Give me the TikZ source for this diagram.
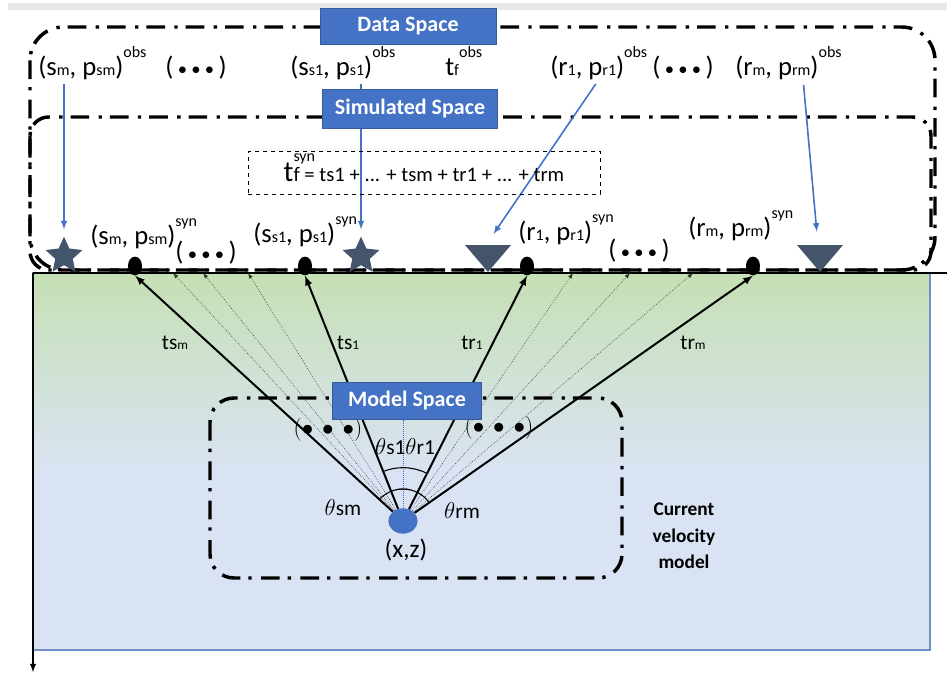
\documentclass[tikz,border=0pt]{standalone}
\usepackage{fontspec}
\setmainfont{Carlito}
\usepackage{amsmath}
\usepackage{amssymb}
\usetikzlibrary{arrows,shapes.geometric,positioning}
\definecolor{boxblue}{HTML}{4472C4}
\definecolor{slate}{HTML}{44546A}
\definecolor{soilgreen}{HTML}{C5E0B4}
\definecolor{soilblue}{HTML}{DAE3F3}
\definecolor{soiledge}{HTML}{7090C8}
\newcommand{\subt}[1]{{\fontsize{12}{12}\selectfont #1}}
\newcommand{\supt}[1]{\raisebox{13.5pt}{\fontsize{12}{12}\selectfont #1}}
\newcommand{\subr}[1]{{\fontsize{10}{10}\selectfont #1}}
\newcommand{\dotsgroup}{(\,{\fontsize{14}{14}\selectfont\textbullet\ \textbullet\ \textbullet}\,)}
\tikzset{
  spacebox/.style={fill=boxblue, draw=boxblue!80!black, text=white, font=\fontsize{16.5}{18}\selectfont\bfseries, inner sep=0pt},
  dashdot/.style={line width=2.6pt, dash pattern=on 14pt off 6pt on 2.5pt off 7pt},
  pair/.style={font=\fontsize{20}{22}\selectfont, inner sep=0pt, anchor=base west},
  raylabel/.style={font=\fontsize{16}{18}\selectfont, inner sep=0pt},
  anglelabel/.style={font=\fontsize{16}{18}\selectfont, inner sep=0pt},
  srcstar/.style={star, star points=5, star point ratio=2.1, fill=slate, minimum size=29pt, inner sep=0pt},
  hit/.style={ellipse, fill=black, minimum width=10.5pt, minimum height=14pt, inner sep=0pt},
  ray/.style={->, line width=1.5pt},
  thinray/.style={->, line width=0.45pt, densely dotted, black!80},
  obsarrow/.style={->, boxblue, line width=1.2pt}
}
\begin{document}
\begin{tikzpicture}[x=0.75pt, y=-0.75pt, >=latex]
\useasboundingbox (0,0) rectangle (947,675);
\fill[gray!18] (8,3) rectangle (947,10);
% current velocity model
\fill[soilblue] (33,273) rectangle (930,650);
\shade[top color=soilgreen, bottom color=soilblue] (33,273) rectangle (930,470);
\draw[soiledge, line width=0.8pt] (33,273) rectangle (930,650);
\draw[line width=1.5pt] (33,273) -- (947,273);
\draw[->, line width=1.1pt] (33,273) -- (33,672);
% spaces
\draw[dashdot, rounded corners=25pt] (30,27) rectangle (935,270);
\draw[dashdot, rounded corners=14pt] (30,117) rectangle (931,270);
% observed data
\node[pair] (obsSm) at (38,75) {(s\subt{m}, p\subt{sm})\supt{obs}};
\node[pair] (obsDotsL) at (165,75) {\dotsgroup};
\node[pair] (obsS1) at (290,75) {(s\subt{s1}, p\subt{s1})\supt{obs}};
\node[pair] (tfobs) at (445,75) {t\subt{f}\supt{obs}};
\node[pair] (obsR1) at (550,75) {(r\subt{1}, p\subt{r1})\supt{obs}};
\node[pair] (obsDotsR) at (652,75) {\dotsgroup};
\node[pair] (obsRm) at (735,75) {(r\subt{m}, p\subt{rm})\supt{obs}};
% sources and receivers
\node[srcstar] (starSm) at (64,256) {};
\node[srcstar] (starS1) at (361,256) {};
\fill[slate] (465,245) -- (511,245) -- (488,272) -- cycle;
\fill[slate] (797,245) -- (843,245) -- (820,272) -- cycle;
\coordinate (rcvR1) at (486,245);
\coordinate (rcvRm) at (818,245);
\draw[obsarrow, shorten <=3pt, shorten >=5pt] (obsSm.south -| starSm) -- (starSm.north);
\draw[obsarrow, shorten <=3pt, shorten >=5pt] (obsS1.south -| starS1) -- (starS1.north);
\draw[obsarrow, shorten <=4pt, shorten >=10pt] (obsR1.south) -- (rcvR1);
\draw[obsarrow, shorten <=4pt, shorten >=10pt] ([xshift=11pt]obsRm.south) -- (rcvRm);
% simulated data
\node[draw, dashed, line width=0.5pt, minimum width=264pt, minimum height=32pt, text height=13pt, text depth=0pt, inner sep=0pt] (tfsyn) at (424,173)
  {{\fontsize{22}{22}\selectfont t}\rlap{\raisebox{15pt}{\fontsize{12}{12}\selectfont syn}}{\fontsize{15.5}{16}\selectfont f = ts1 + ... + tsm + tr1 + ... + trm}};
\node[pair] (synSm) at (90,244) {(s\subt{m}, p\subt{sm})\supt{syn}};
\node[pair] (synDotsL) at (175,260) {\dotsgroup};
\node[pair] (synS1) at (253,242) {(s\subt{s1}, p\subt{s1})\supt{syn}};
\node[pair] (synR1) at (518,240) {(r\subt{1}, p\subt{r1})\supt{syn}};
\node[pair] (synDotsR) at (608,258) {\dotsgroup};
\node[pair] (synRm) at (688,236) {(r\subt{m}, p\subt{rm})\supt{syn}};
\node[hit] (hitSm) at (135,266) {};
\node[hit] (hitS1) at (305,266) {};
\node[hit] (hitR1) at (527,266) {};
\node[hit] (hitRm) at (753,266) {};
% model space
\node[ellipse, fill=boxblue, minimum width=22pt, minimum height=19pt, inner sep=0pt] (src) at (403,521) {};
\coordinate (modelbottom) at (403,420);
\foreach \g/\x in {gL1/173, gL2/203, gL3/248, gR1/573, gR2/630, gR3/693}
  \coordinate (\g) at (\x,273);
\foreach \g in {gL1, gL2, gL3, gR1, gR2, gR3}
  \draw[thinray] (src) -- (\g);
\foreach \h in {hitSm, hitS1, hitR1, hitRm}
  \draw[ray] (src) -- (\h.south);
\draw[dashdot, rounded corners=18pt] (210,398) rectangle (622,578);
\draw[boxblue, densely dotted, line width=0.5pt] (src) -- (modelbottom);
\draw[line width=0.8pt] ([shift={(111:40pt)}]src.center) arc[start angle=111, end angle=90, radius=40pt];
\draw[line width=0.8pt] ([shift={(90:40pt)}]src.center) arc[start angle=90, end angle=64.5, radius=40pt];
\draw[line width=0.8pt] ([shift={(136:24pt)}]src.center) arc[start angle=136, end angle=80, radius=24pt];
\draw[line width=0.8pt] ([shift={(100:24pt)}]src.center) arc[start angle=100, end angle=36, radius=24pt];
\node[raylabel] (lblSm) at (175,343) {ts\subr{m}};
\node[raylabel] (lblS1) at (348,343) {ts\subr{1}};
\node[raylabel] (lblR1) at (472,343) {tr\subr{1}};
\node[raylabel] (lblRm) at (693,343) {tr\subr{m}};
\node[anglelabel] (angDotsL) at (328,430) {$(\bullet\,\bullet\,\bullet)$};
\node[anglelabel] (angDotsR) at (499,428) {$(\bullet\,\bullet\,\bullet)$};
\node[anglelabel] (angS1R1) at (405,447) {$\theta\mathrm{s1}\theta\mathrm{r1}$};
\node[anglelabel] (angSm) at (343,508) {$\theta\mathrm{sm}$};
\node[anglelabel] (angRm) at (462,510) {$\theta\mathrm{rm}$};
\node[font=\fontsize{19}{21}\selectfont, inner sep=0pt] (srclabel) at (406,550) {(x,z)};
\node[font=\fontsize{14.5}{20}\selectfont\bfseries, align=center] (velmodel) at (684,536) {Current\\velocity\\model};
% space titles on top
\node[spacebox, minimum width=132pt, minimum height=27pt] (dataspace) at (408,26) {Data Space};
\node[spacebox, minimum width=131pt, minimum height=29pt] (simspace) at (410,109) {Simulated Space};
\node[spacebox, minimum width=112pt, minimum height=28pt] (modelspace) at (407,401) {Model Space};
\end{tikzpicture}
\end{document}
